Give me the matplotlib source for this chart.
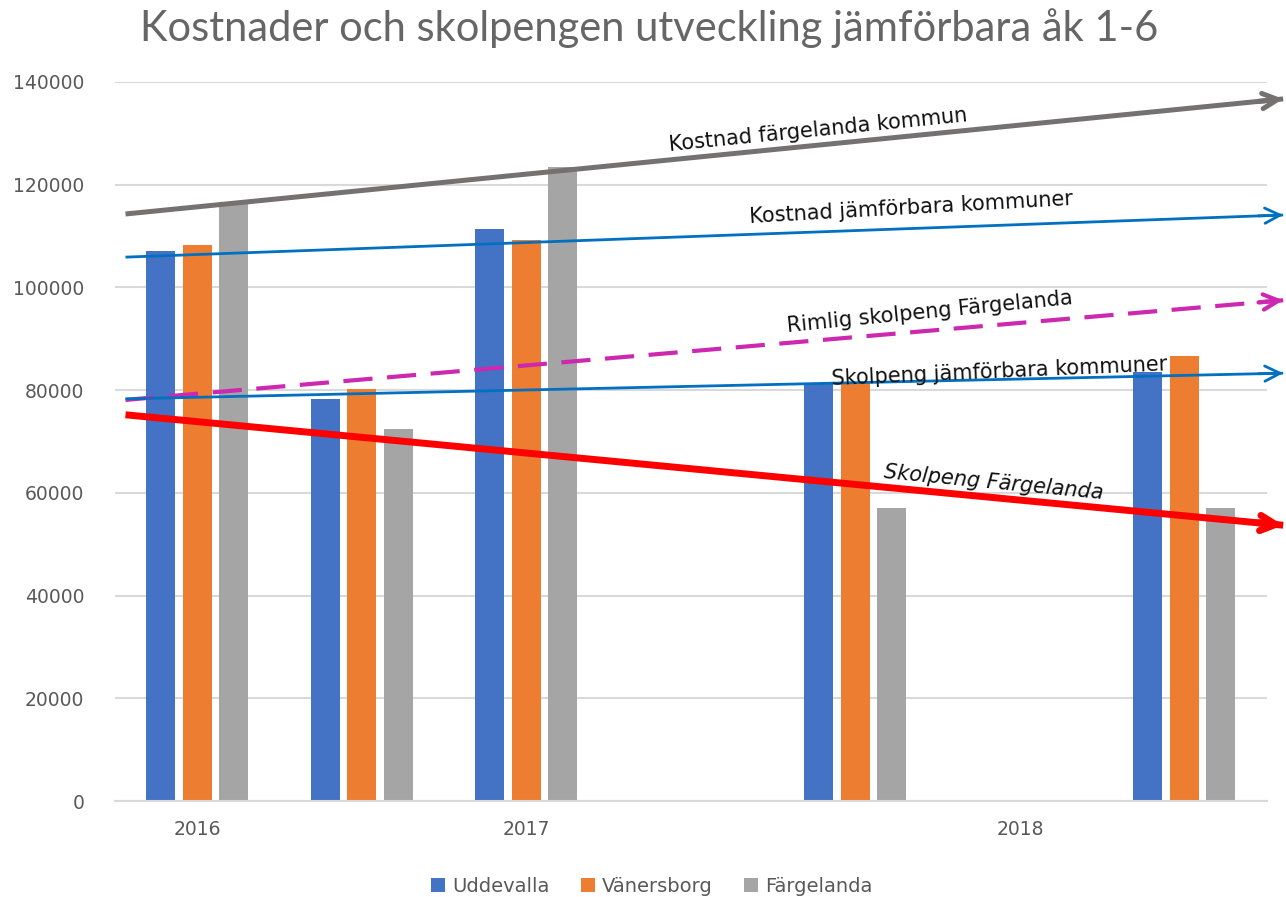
import matplotlib
matplotlib.use("Agg")
import matplotlib.pyplot as plt
import numpy as np

# bar data, 7 category slots (only three carry a year label)
slot_labels = ["2016", "", "2017", "", "", "2018", ""]
uddevalla = [107000, 78200, 111300, np.nan, 81300, np.nan, 83500]
vanersborg = [108200, 80300, 109200, np.nan, 81300, np.nan, 86600]
fargelanda = [116500, 72500, 123400, np.nan, 57000, np.nan, 57000]

series_names = ["Uddevalla", "Vänersborg", "Färgelanda"]
series_colors = ["#4472C4", "#ED7D31", "#A5A5A5"]

# hand-drawn trend arrows (start x, end x) and (start y, end y)
arrow_x = [-0.436, 6.6]
kostnad_farg = [114300, 136700]
kostnad_jamf = [105900, 114100]
rimlig_skolpeng = [78100, 97500]
skolpeng_jamf = [78300, 83300]
skolpeng_farg = [75200, 53700]

fig = plt.figure(figsize=(12.86, 8.97), dpi=100)
ax = fig.add_axes([0.0894, 0.107, 0.8956, 0.8016])

x = np.arange(len(slot_labels))
w = 0.176
offsets = [-0.222, 0, 0.222]
for vals, name, col, off in zip([uddevalla, vanersborg, fargelanda], series_names, series_colors, offsets):
    ax.bar(x + off, vals, width=w, color=col, label=name, zorder=2)

ax.set_xlim(-0.5, 6.5)
ax.set_ylim(0, 140000)
ax.set_yticks(np.arange(0, 140001, 20000))
ax.set_xticks(x)
ax.set_xticklabels(slot_labels)
ax.tick_params(axis="both", length=0, labelsize=13.5, labelcolor="#595959")
ax.tick_params(axis="y", pad=22)
ax.tick_params(axis="x", pad=14)
ax.grid(axis="y", color="#D9D9D9", linewidth=1.5, zorder=0)
ax.set_axisbelow(True)
for s in ["top", "right", "left"]:
    ax.spines[s].set_visible(False)
ax.spines["bottom"].set_color("#D9D9D9")
ax.spines["bottom"].set_linewidth(1.5)


def trend(ys, color, lw, ls="-"):
    ax.plot(arrow_x, ys, color=color, lw=lw, ls=ls, clip_on=False, zorder=3,
            solid_capstyle="butt")
    # short solid piece at the end carries the open arrowhead
    x0 = arrow_x[1] - 0.15
    y0 = ys[0] + (ys[1] - ys[0]) * (x0 - arrow_x[0]) / (arrow_x[1] - arrow_x[0])
    ax.annotate("", xy=(arrow_x[1], ys[1]), xytext=(x0, y0),
                arrowprops=dict(arrowstyle="->,head_length=1.1,head_width=0.55",
                                color=color, lw=lw, shrinkA=0, shrinkB=0),
                annotation_clip=False, zorder=3)


trend(kostnad_farg, "#767171", 3.6)
trend(kostnad_jamf, "#0070C0", 2.0)
trend(rimlig_skolpeng, "#CC29B0", 3.0, ls=(0, (7, 3.5)))
trend(skolpeng_jamf, "#0070C0", 2.0)
trend(skolpeng_farg, "#FF0000", 5.0)

lab = dict(fontsize=15, color="#111111", ha="center", va="center", zorder=4)
ax.text(3.776, 130600, "Kostnad färgelanda kommun", rotation=5.7, **lab)
ax.text(4.339, 115500, "Kostnad jämförbara kommuner", rotation=3.2, **lab)
ax.text(4.455, 95200, "Rimlig skolpeng Färgelanda", rotation=5.6, **lab)
ax.text(4.873, 83500, "Skolpeng jämförbara kommuner", rotation=2.5, **lab)
ax.text(4.842, 61900, "Skolpeng Färgelanda", rotation=-5.5, style="italic", **lab)

fig.text(0.505, 0.969, "Kostnader och skolpengen utveckling jämförbara åk 1-6",
         ha="center", va="center", fontsize=30, color="#666666",
         family=["Lato", "DejaVu Sans"])

fig.legend(loc="center", bbox_to_anchor=(0.507, 0.012), ncol=3, frameon=False,
           fontsize=14, handlelength=0.7, handleheight=0.7, columnspacing=1.6,
           handletextpad=0.4, labelcolor="#595959")

fig.savefig("out.png", dpi=100)
